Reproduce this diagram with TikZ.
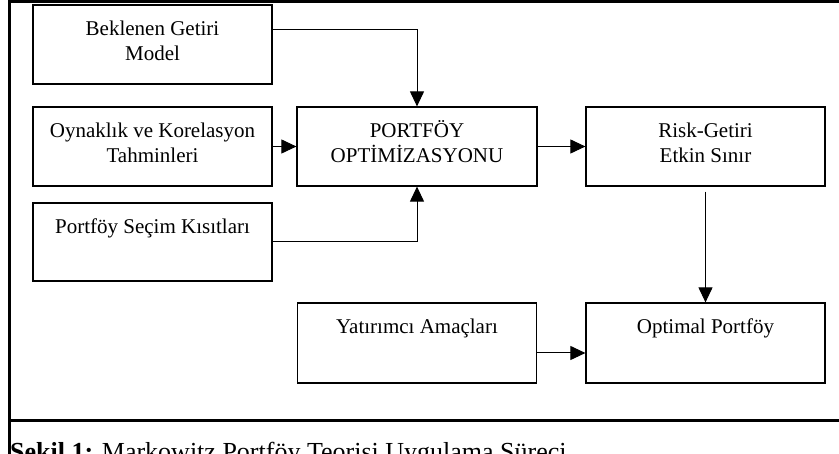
\documentclass[tikz,border=0pt]{standalone}
\usepackage{fontspec}
\setmainfont{Liberation Serif}
\usetikzlibrary{arrows.meta}
% text sits near the top of each box
\newcommand{\kutuyazi}[2][79pt]{\parbox[c][#1][t]{236pt}{\centering\rule{0pt}{31pt}#2}}

\begin{document}
\begin{tikzpicture}[x=1pt,y=-1pt,
        kutu/.style={draw,line width=1.2pt,inner sep=0pt,minimum width=239pt,minimum height=79pt,font=\fontsize{21}{25}\selectfont},
        ok/.style={line width=1pt,-{Triangle[length=15pt,width=14pt]}},
        cerceve/.style={line width=3pt}]
    \useasboundingbox (0,0) rectangle (839,454);
    \clip (0,0) rectangle (839,454);
    % Frame
    \draw[cerceve] (9.5,454) -- (9.5,1.5) -- (839,1.5);
    \draw[cerceve] (9.5,421) -- (839,421);
    % Inputs
    \node[kutu] (beklenen) at (152.5,44.5) {\kutuyazi{Beklenen Getiri\\Model}};
    \node[kutu] (oynaklik) at (152.5,146.5) {\kutuyazi{Oynaklık ve Korelasyon\\Tahminleri}};
    \node[kutu,minimum height=78pt] (kisit) at (152.5,242) {\kutuyazi[78pt]{Portföy Seçim Kısıtları}};
    \node[kutu,minimum height=80pt] (yatirimci) at (417,343) {\kutuyazi[80pt]{Yatırımcı Amaçları}};
    % Optimisation and results
    \node[kutu,minimum width=240pt] (optim) at (417,146.5) {\kutuyazi{PORTFÖY\\OPTİMİZASYONU}};
    \node[kutu] (sinir) at (705.5,146.5) {\kutuyazi{Risk-Getiri\\Etkin Sınır}};
    \node[kutu,minimum height=80pt] (optimal) at (705.5,343) {\kutuyazi[80pt]{Optimal Portföy}};
    % Arrows
    \draw[ok] ([yshift=14.5pt]beklenen.east) -| (optim.north);
    \draw[ok] (oynaklik.east) -- (optim.west);
    \draw[ok] (kisit.east) -| (optim.south);
    \draw[ok] (optim.east) -- (sinir.west);
    \draw[ok] ([yshift=-5pt]sinir.south) -- (optimal.north);
    \draw[ok] ([yshift=-10pt]yatirimci.east) -- ([yshift=-10pt]optimal.west);
    % Caption
    \node[anchor=base west,inner sep=0pt,font=\fontsize{26}{30}\selectfont] (baslik) at (10,461)
        {\textbf{Şekil 1:} Markowitz Portföy Teorisi Uygulama Süreci};
\end{tikzpicture}
\end{document}
